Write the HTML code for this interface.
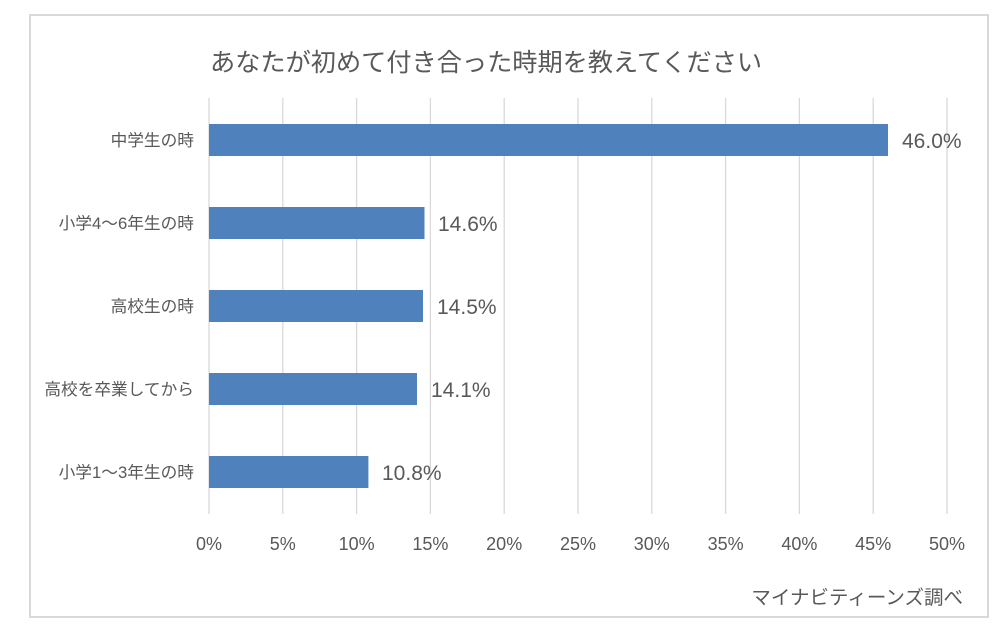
<!DOCTYPE html>
<html><head><meta charset="utf-8"><style>
body{margin:0;background:#fff;}
svg{display:block;}
text{font-family:"Liberation Sans","Noto Sans CJK JP",sans-serif;fill:#595959;}
</style></head><body>
<svg width="1001" height="631" viewBox="0 0 1001 631">
<rect x="30" y="15" width="958" height="602" fill="#fff" stroke="#d9d9d9" stroke-width="2"/>
<text x="210" y="71" font-size="25.2">あなたが初めて付き合った時期を教えてください</text>
<g stroke="#d9d9d9" stroke-width="1.3">
<line x1="209" y1="98" x2="209" y2="514"/>
<line x1="282.8" y1="98" x2="282.8" y2="514"/>
<line x1="356.6" y1="98" x2="356.6" y2="514"/>
<line x1="430.4" y1="98" x2="430.4" y2="514"/>
<line x1="504.2" y1="98" x2="504.2" y2="514"/>
<line x1="578" y1="98" x2="578" y2="514"/>
<line x1="651.8" y1="98" x2="651.8" y2="514"/>
<line x1="725.6" y1="98" x2="725.6" y2="514"/>
<line x1="799.4" y1="98" x2="799.4" y2="514"/>
<line x1="873.2" y1="98" x2="873.2" y2="514"/>
<line x1="947" y1="98" x2="947" y2="514"/>
</g>
<g fill="#4f81bd">
<rect x="209" y="124" width="679" height="32"/>
<rect x="209" y="207" width="215.5" height="32"/>
<rect x="209" y="290" width="214" height="32"/>
<rect x="209" y="373" width="208" height="32"/>
<rect x="209" y="456" width="159.4" height="32"/>
</g>
<g font-size="21">
<text x="902" y="148">46.0%</text>
<text x="438" y="231">14.6%</text>
<text x="437" y="314">14.5%</text>
<text x="431" y="397">14.1%</text>
<text x="382" y="480">10.8%</text>
</g>
<g font-size="16.7" text-anchor="end">
<text x="194" y="146">中学生の時</text>
<text x="194" y="229">小学4～6年生の時</text>
<text x="194" y="312">高校生の時</text>
<text x="194" y="395">高校を卒業してから</text>
<text x="194" y="478">小学1～3年生の時</text>
</g>
<g font-size="18" text-anchor="middle">
<text x="209" y="550">0%</text>
<text x="282.8" y="550">5%</text>
<text x="356.6" y="550">10%</text>
<text x="430.4" y="550">15%</text>
<text x="504.2" y="550">20%</text>
<text x="578" y="550">25%</text>
<text x="651.8" y="550">30%</text>
<text x="725.6" y="550">35%</text>
<text x="799.4" y="550">40%</text>
<text x="873.2" y="550">45%</text>
<text x="947" y="550">50%</text>
</g>
<text x="963" y="604" font-size="19.5" text-anchor="end">マイナビティーンズ調べ</text>
</svg>
</body></html>
